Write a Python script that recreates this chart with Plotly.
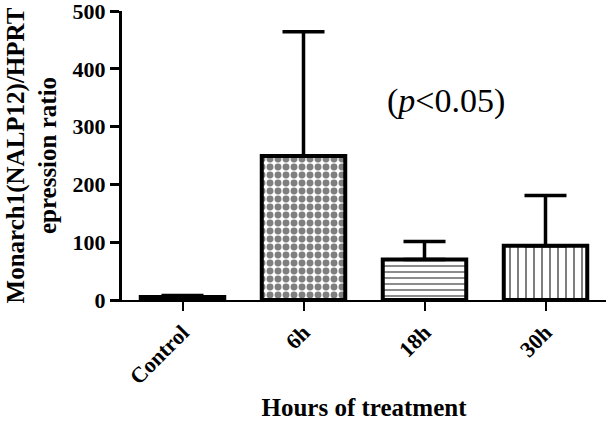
import plotly.graph_objects as go

categories = ["Control", "6h", "18h", "30h"]
means = [5, 249, 70, 94]
err_upper = [3, 215, 31, 87]
patterns = ["", ".", "-", "|"]
y_ticks = [0, 100, 200, 300, 400, 500]

fig = go.Figure()
fig.add_trace(go.Bar(
    x=categories,
    y=means,
    width=0.69,
    marker=dict(
        color="white",
        line=dict(color="black", width=4),
        pattern=dict(shape=patterns, fgcolor="black", bgcolor="white",
                     size=[8, 8, 6, 8], solidity=[0.3, 0.58, 0.3, 0.25]),
    ),
    error_y=dict(type="data", symmetric=False, array=err_upper,
                 arrayminus=[0, 0, 0, 0], color="black", thickness=3.5, width=21),
))

serif = "Liberation Serif"
fig.update_layout(
    width=608, height=421,
    margin=dict(l=122, r=2, t=11, b=121),
    plot_bgcolor="white", paper_bgcolor="white",
    showlegend=False,
    font=dict(family=serif, color="black"),
    xaxis=dict(
        range=[-0.5, 3.5], showline=True, linecolor="black", linewidth=2,
        ticks="outside", ticklen=9, tickwidth=2, tickcolor="black",
        tickangle=-45, tickfont=dict(family=serif, size=22, color="black", weight="bold"),
        title=dict(text="<b>Hours of treatment</b>", font=dict(family=serif, size=25), standoff=16),
        showgrid=False, automargin=False,
    ),
    yaxis=dict(
        range=[0, 500], tickvals=y_ticks, showline=True, linecolor="black", linewidth=3,
        ticks="outside", ticklen=9, tickwidth=3, tickcolor="black",
        ticklabeloverflow="allow",
        tickfont=dict(family=serif, size=22, color="black", weight="bold"),
        title=dict(text="<b>Monarch1(NALP12)/HPRT<br>epression ratio</b>",
                   font=dict(family=serif, size=25), standoff=9),
        showgrid=False, zeroline=False, automargin=False,
    ),
)
fig.add_annotation(
    x=2.18, y=345, xref="x", yref="y", showarrow=False,
    text="(<i>p</i><0.05)", font=dict(family=serif, size=34, color="black"),
)
fig.write_html("out.html", config={"displayModeBar": False},
               post_script="document.body.style.margin='0';document.body.style.padding='0';")
